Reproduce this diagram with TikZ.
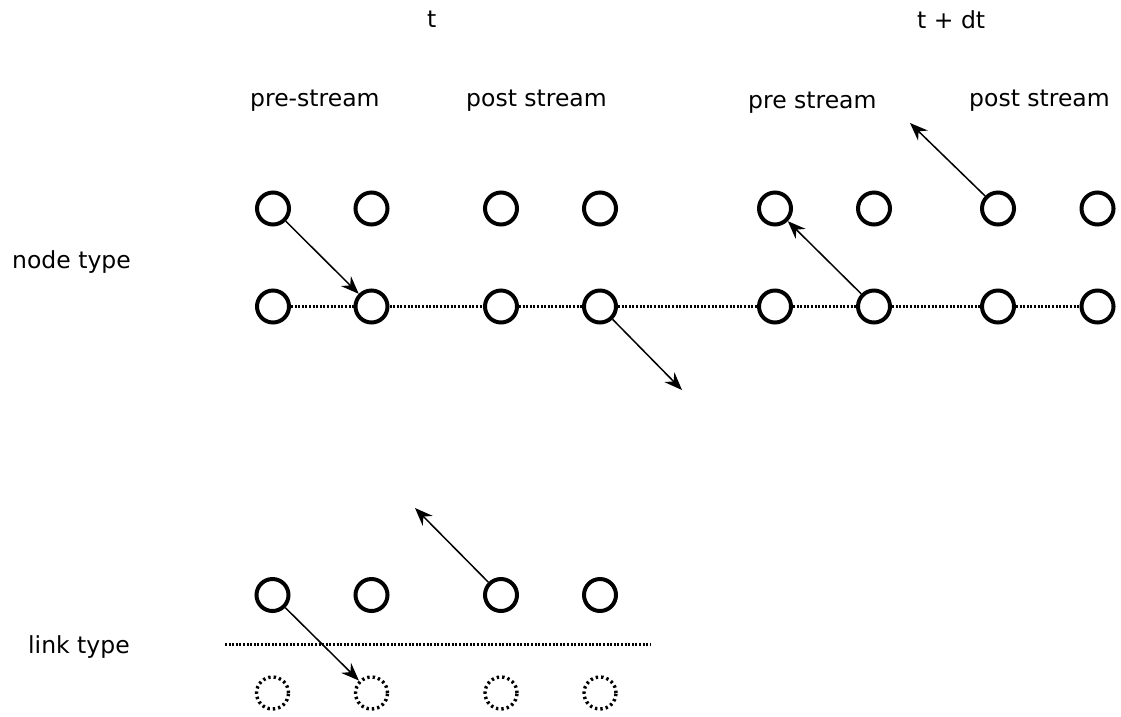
\documentclass[tikz,border=0pt]{standalone}
\usepackage{fontspec}
\setmainfont{DejaVu Sans}
\usetikzlibrary{arrows.meta}
\begin{document}
\begin{tikzpicture}[x=1pt,y=-1pt,
  nd/.style={circle,draw,line width=4pt,minimum size=32pt,inner sep=0pt},
  dnd/.style={circle,draw,line width=3.4pt,minimum size=32pt,inner sep=0pt,dash pattern=on 2.4pt off 3pt},
  lnk/.style={line width=3pt,dash pattern=on 2pt off 1.6pt},
  arr/.style={line width=1.5pt,-{Stealth[length=18pt,width=14pt,inset=6pt]}},
  lbl/.style={anchor=base west,inner sep=0pt,font=\fontsize{23.5}{28}\selectfont}]
\useasboundingbox (0,0) rectangle (1121,716);
% labels
\node[lbl] (lt) at (427,27) {t};
\node[lbl] (ltdt) at (917,28) {t + dt};
\node[lbl] (lpre1) at (250,106) {pre-stream};
\node[lbl] (lpost1) at (466,106) {post stream};
\node[lbl] (lpre2) at (748,108) {pre stream};
\node[lbl] (lpost2) at (969,106) {post stream};
\node[lbl] (lnode) at (12,268) {node type};
\node[lbl] (llink) at (28,653) {link type};
% node type rows
\foreach \n/\x in {1/273,2/371.5,3/501,4/600,5/775,6/874,7/998,8/1097.5}{
  \node[nd] (t\n) at (\x,208.5) {};
  \node[nd] (m\n) at (\x,306.5) {};
}
\foreach \a/\b in {1/2,2/3,3/4,4/5,5/6,6/7,7/8}{
  \draw[lnk] (m\a) -- (m\b);
}
% link type rows
\foreach \n/\x in {1/272.5,2/371.5,3/501,4/600}{
  \node[nd] (b\n) at (\x,595) {};
  \node[dnd] (d\n) at (\x,693) {};
}
\coordinate (ls) at (225,644);
\coordinate (le) at (650,644);
\draw[lnk] (ls) -- (le);
% free ends
\coordinate (f1) at (682,390);
\coordinate (f2) at (910,123);
\coordinate (f3) at (415,508);
% arrows
\draw[arr] (t1) -- (m2);
\draw[arr] (m4) -- (f1);
\draw[arr] (m6) -- (t5);
\draw[arr] (t7) -- (f2);
\draw[arr] (b3) -- (f3);
\draw[arr] (b1) -- (d2);
\end{tikzpicture}
\end{document}
